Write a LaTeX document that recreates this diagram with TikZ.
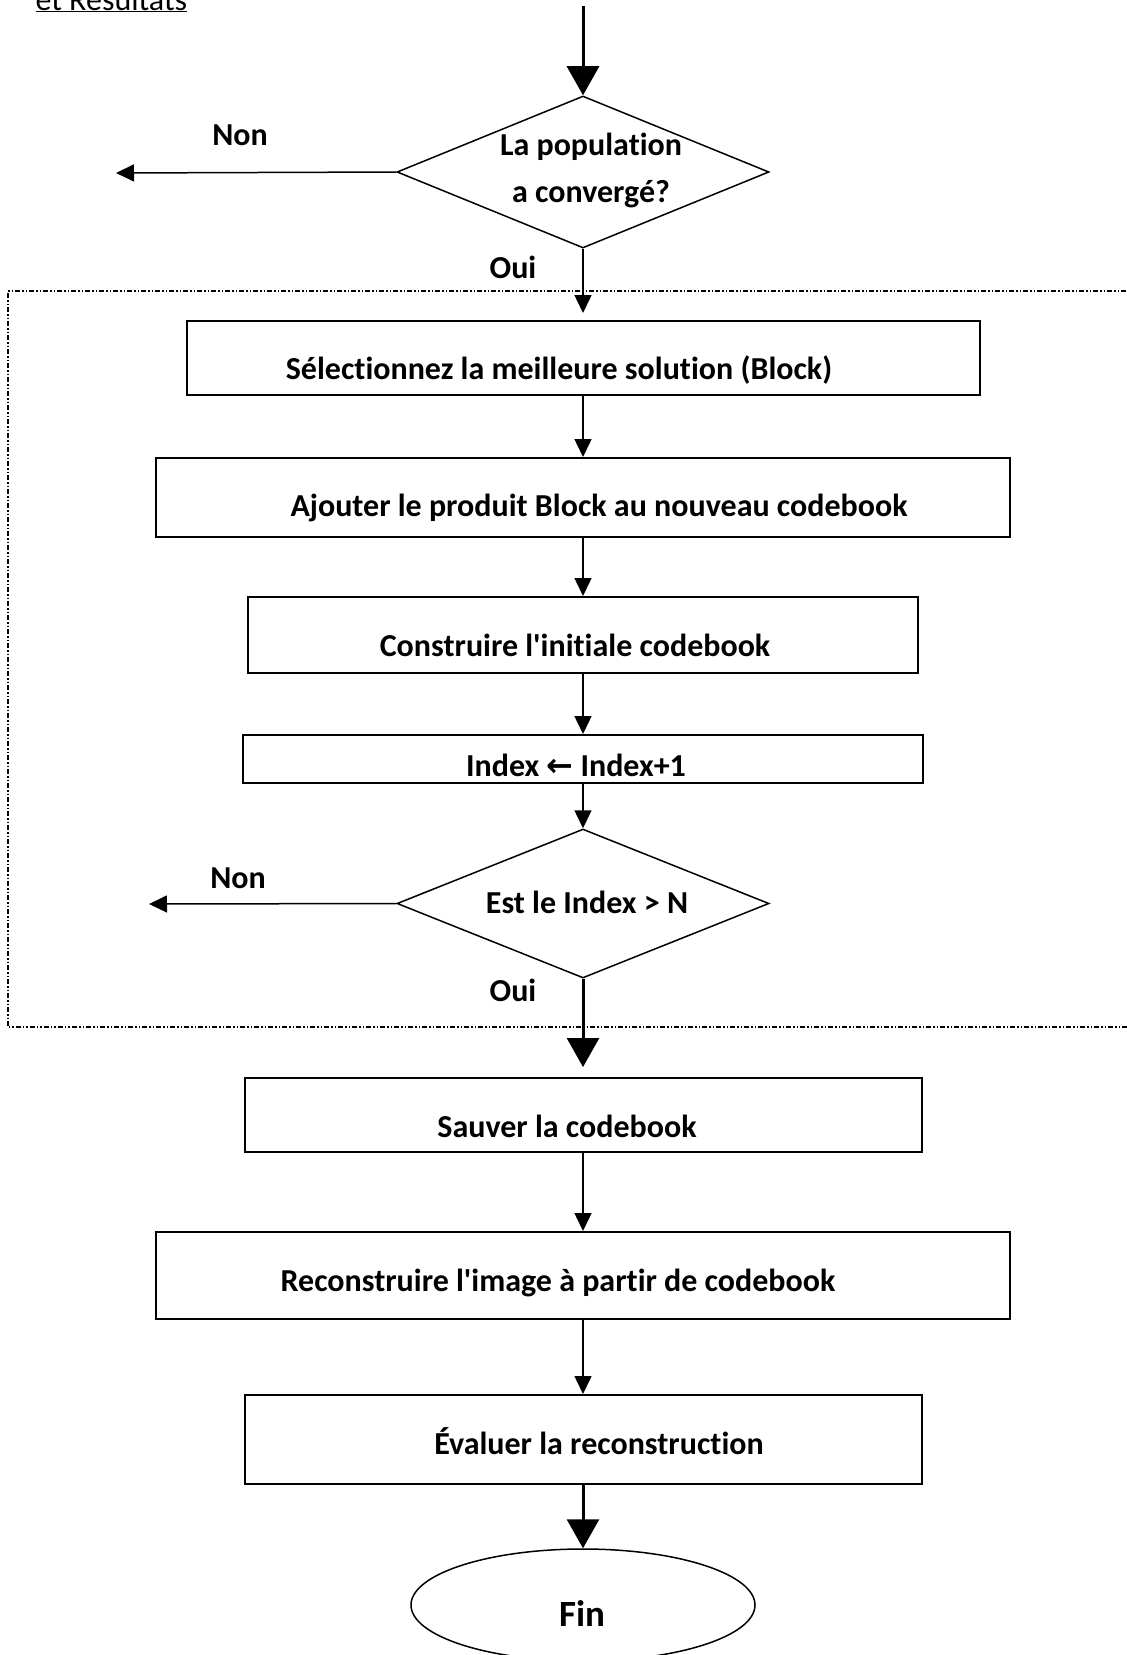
\documentclass[tikz,border=0pt]{standalone}
\usepackage{fontspec}
\setmainfont{Carlito}[Ligatures=NoCommon]
\newfontfamily\arrowfont{DejaVu Sans}
\usetikzlibrary{arrows.meta, positioning, shapes.geometric}

\begin{document}
\begin{tikzpicture}[x=1pt,y=-1pt,on grid,font=\bfseries\fontsize{32}{38}\selectfont]
    \tikzstyle{proc}=[shape=rectangle,draw,line width=2pt,inner sep=0pt]
    \tikzstyle{decision}=[shape=diamond,draw,line width=1.5pt,inner sep=0pt,minimum width=372pt,minimum height=152pt]
    \tikzstyle{txt}=[inner sep=0pt,align=center]
    \tikzstyle{fine}=[-{Triangle[length=18pt,width=17pt]},line width=1.5pt]
    \tikzstyle{big}=[-{Triangle[length=29pt,width=32pt]},line width=3pt]
    \tikzstyle{frame}=[line width=1.5pt,dash pattern=on 5pt off 2pt on 1.5pt off 2pt on 1.5pt off 2pt]

    \useasboundingbox (0,0) rectangle (1127,1655);

    % heading, cut by the page edge
    \node[anchor=base west,font=\mdseries\fontsize{32}{38}\selectfont] (head) at (32,10) {\underline{et Résultats}};

    \coordinate (top) at (583,6);
    \node[decision] (d1) at (583,172) {};
    \node[proc,below=186pt of d1,minimum width=793pt,minimum height=74pt] (b1) {};
    \node[proc,below=139.5pt of b1,minimum width=854pt,minimum height=79pt] (b2) {};
    \node[proc,below=137.5pt of b2,minimum width=670pt,minimum height=76pt] (b3) {};
    \node[proc,below=124pt of b3,minimum width=680pt,minimum height=48pt] (b4) {};
    \node[decision,below=144.5pt of b4,minimum height=149pt] (d2) {};
    \node[proc,below=211.5pt of d2,minimum width=677pt,minimum height=74pt] (b5) {};
    \node[proc,below=160.5pt of b5,minimum width=854pt,minimum height=87pt] (b6) {};
    \node[proc,below=164pt of b6,minimum width=677pt,minimum height=89pt] (b7) {};
    \node[ellipse,draw,line width=1.5pt,below=165.5pt of b7,minimum width=344pt,minimum height=112pt] (fin) {};

    % texts
    \node[txt] (d1t) at ([shift={(8,-2)}]d1) {La population\\[9pt]a convergé?};
    \node[txt] (b1t) at ([shift={(-24,12)}]b1) {Sélectionnez la meilleure solution (Block)};
    \node[txt] (b2t) at ([shift={(16,10.5)}]b2) {Ajouter le produit Block au nouveau codebook};
    \node[txt] (b3t) at ([shift={(-8,10)}]b3) {Construire l\textquotesingle initiale codebook};
    \node[txt] (b4t) at ([shift={(-7,6)}]b4) {Index {\arrowfont ←} Index+1};
    \node[txt] (d2t) at ([shift={(4,-1.5)}]d2) {Est le Index > N};
    \node[txt] (b5t) at ([shift={(-16,11)}]b5) {Sauver la codebook};
    \node[txt] (b6t) at ([shift={(-25,7.5)}]b6) {Reconstruire l\textquotesingle image à partir de codebook};
    \node[txt] (b7t) at ([shift={(16,1.5)}]b7) {Évaluer la reconstruction};
    \node[txt,font=\bfseries\fontsize{37}{42}\selectfont] (fint) at ([shift={(-1,8)}]fin) {Fin};

    \node[txt] (non1) at (240,135) {Non};
    \node[txt] (oui1) at (513,267) {Oui};
    \node[txt] (non2) at (238,878) {Non};
    \node[txt] (oui2) at (513,990) {Oui};

    \coordinate (n1) at (116,173);
    \coordinate (n2) at (149,904);

    \draw[big] (top) -- (d1);
    \path[draw,fine]
    (d1) edge[shorten >=7pt] (b1)
    (b1) edge (b2)
    (b2) edge (b3)
    (b3) edge (b4)
    (b4) edge (d2)
    (b5) edge (b6)
    (b6) edge (b7)
    ;
    \path[draw,big]
    (d2) edge[shorten >=10pt] (b5)
    (b7) edge (fin)
    ;
    \draw[fine] (d1.west) -- (n1);
    \draw[fine] (d2.west) -- (n2);

    \draw[frame] (1140,291) -- (8,291) -- (8,1027) -- (1140,1027);

  \end{tikzpicture}
\end{document}
